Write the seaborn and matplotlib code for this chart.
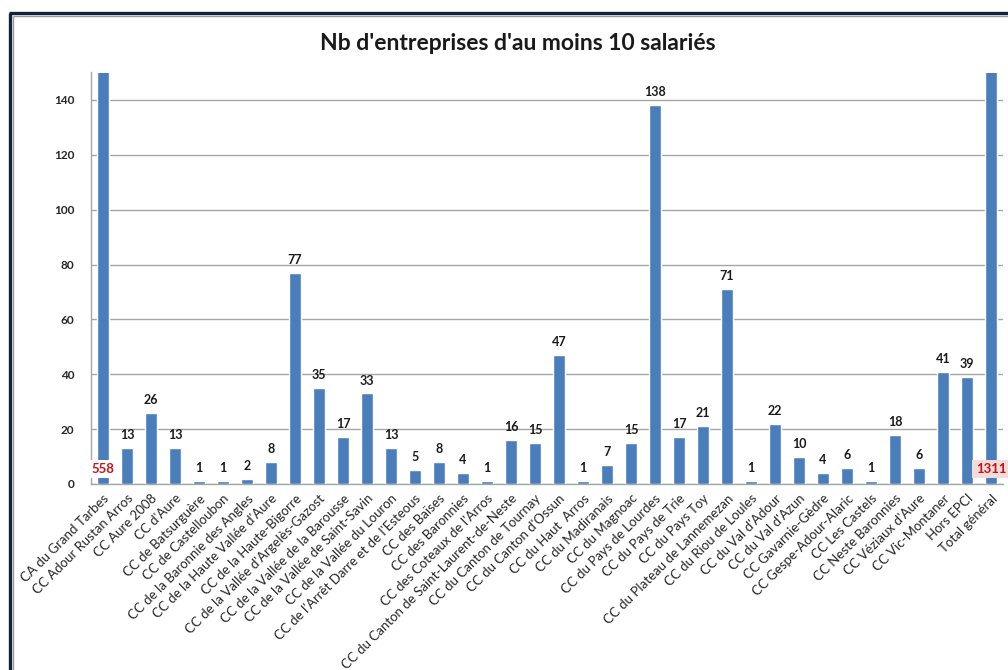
import matplotlib
matplotlib.use("Agg")
import matplotlib.pyplot as plt
from matplotlib.lines import Line2D
import seaborn as sns
import pandas as pd

# Communautés de communes and their number of companies with 10+ employees
categories = [
    "CA du Grand Tarbes", "CC Adour Rustan Arros", "CC Aure 2008", "CC d'Aure",
    "CC de Batsurguère", "CC de Castelloubon", "CC de la Baronnie des Angles",
    "CC de la Haute Vallée d'Aure", "CC de la Haute-Bigorre",
    "CC de la Vallée d'Argelès-Gazost", "CC de la Vallée de la Barousse",
    "CC de la Vallée de Saint-Savin", "CC de la Vallée du Louron",
    "CC de l'Arrêt Darre et de l'Esteous", "CC des Baïses", "CC des Baronnies",
    "CC des Coteaux de l'Arros", "CC du Canton de Saint-Laurent-de-Neste",
    "CC du Canton de Tournay", "CC du Canton d'Ossun", "CC du Haut  Arros",
    "CC du Madiranais", "CC du Magnoac", "CC du Pays de Lourdes",
    "CC du Pays de Trie", "CC du Pays Toy", "CC du Plateau de Lannemezan",
    "CC du Riou de Loules", "CC du Val d'Adour", "CC du Val d'Azun",
    "CC Gavarnie-Gèdre", "CC Gespe-Adour-Alaric", "CC Les Castels",
    "CC Neste Baronnies", "CC Véziaux d'Aure", "CC Vic-Montaner",
    "Hors EPCI", "Total général",
]
counts = [558, 13, 26, 13, 1, 1, 2, 8, 77, 35, 17, 33, 13, 5, 8, 4, 1, 16, 15,
          47, 1, 7, 15, 138, 17, 21, 71, 1, 22, 10, 4, 6, 1, 18, 6, 41, 39, 1311]
y_ticks = [0, 20, 40, 60, 80, 100, 120, 140]
title = "Nb d'entreprises d'au moins 10 salariés"

sns.set_theme(style="white")
plt.rcParams["font.family"] = ["Lato", "DejaVu Sans"]

W, H = 1008, 670
fig = plt.figure(figsize=(W / 100, H / 100), dpi=100)
ax = fig.add_axes([91 / W, 186 / H, 912 / W, 411.5 / H])

df = pd.DataFrame({"epci": categories, "n": counts})
sns.barplot(data=df, x="epci", y="n", color="#4A7EBB", saturation=1,
            width=0.5, ax=ax, zorder=3)

ymax = 150
ax.set_ylim(0, ymax)
ax.set_xlim(-0.5, len(categories) - 0.5)
ax.set_xlabel("")
ax.set_ylabel("")

# gridlines and axis styling
ax.set_yticks(y_ticks)
ax.yaxis.grid(True, color="#A6A6A6", linewidth=1, zorder=0)
for s in ["top", "right"]:
    ax.spines[s].set_visible(False)
for s in ["left", "bottom"]:
    ax.spines[s].set_color("#A6A6A6")
    ax.spines[s].set_linewidth(1)
ax.tick_params(axis="y", which="major", length=4, width=1, color="#A6A6A6",
               labelsize=8.5, labelcolor="#262626", pad=8)
for lbl in ax.get_yticklabels():
    lbl.set_fontweight("bold")

# category ticks sit between bars
ax.set_xticks(range(len(categories)))
ax.set_xticklabels(categories, rotation=45, ha="right", rotation_mode="anchor",
                   fontsize=9.5, color="#262626")
ax.tick_params(axis="x", which="major", length=0, pad=6)
ax.set_xticks([i + 0.5 for i in range(-1, len(categories))], minor=True)
ax.tick_params(axis="x", which="minor", length=4, width=1, color="#A6A6A6",
               direction="out")

# value labels; bars taller than the axis get a boxed label near the base
outlier_bg = iter(["white", "#F2DCDB"])
for i, v in enumerate(counts):
    if v > ymax:
        ax.text(i, 5.5, f"{v}", ha="center", va="center", fontsize=9.5,
                fontweight="bold", color="#C0141B", zorder=5,
                bbox=dict(boxstyle="square,pad=0.25", fc=next(outlier_bg),
                          ec="none"))
    else:
        ax.annotate(f"{v}", (i, v), xytext=(0, 5), textcoords="offset points",
                    ha="center", va="bottom", fontsize=9, fontweight="bold",
                    color="#1A1A1A", zorder=5)

fig.text(518 / W, 1 - 43 / H, title, ha="center", va="center",
         fontsize=16.5, fontweight="bold", color="#1A1A1A")

# chart-area border
def px_line(x0, y0, x1, y1, color, lw):
    fig.add_artist(Line2D([x0 / W, x1 / W], [1 - y0 / H, 1 - y1 / H],
                          color=color, linewidth=lw, solid_capstyle="butt"))

px_line(10, 13, 10, H, "#14213D", 2.4)
px_line(9, 13, W, 13, "#14213D", 2.4)
px_line(13, 16, 13, H, "#9A9A9A", 1.0)
px_line(13, 16, W, 16, "#9A9A9A", 1.0)

fig.savefig("out.png", dpi=100)
